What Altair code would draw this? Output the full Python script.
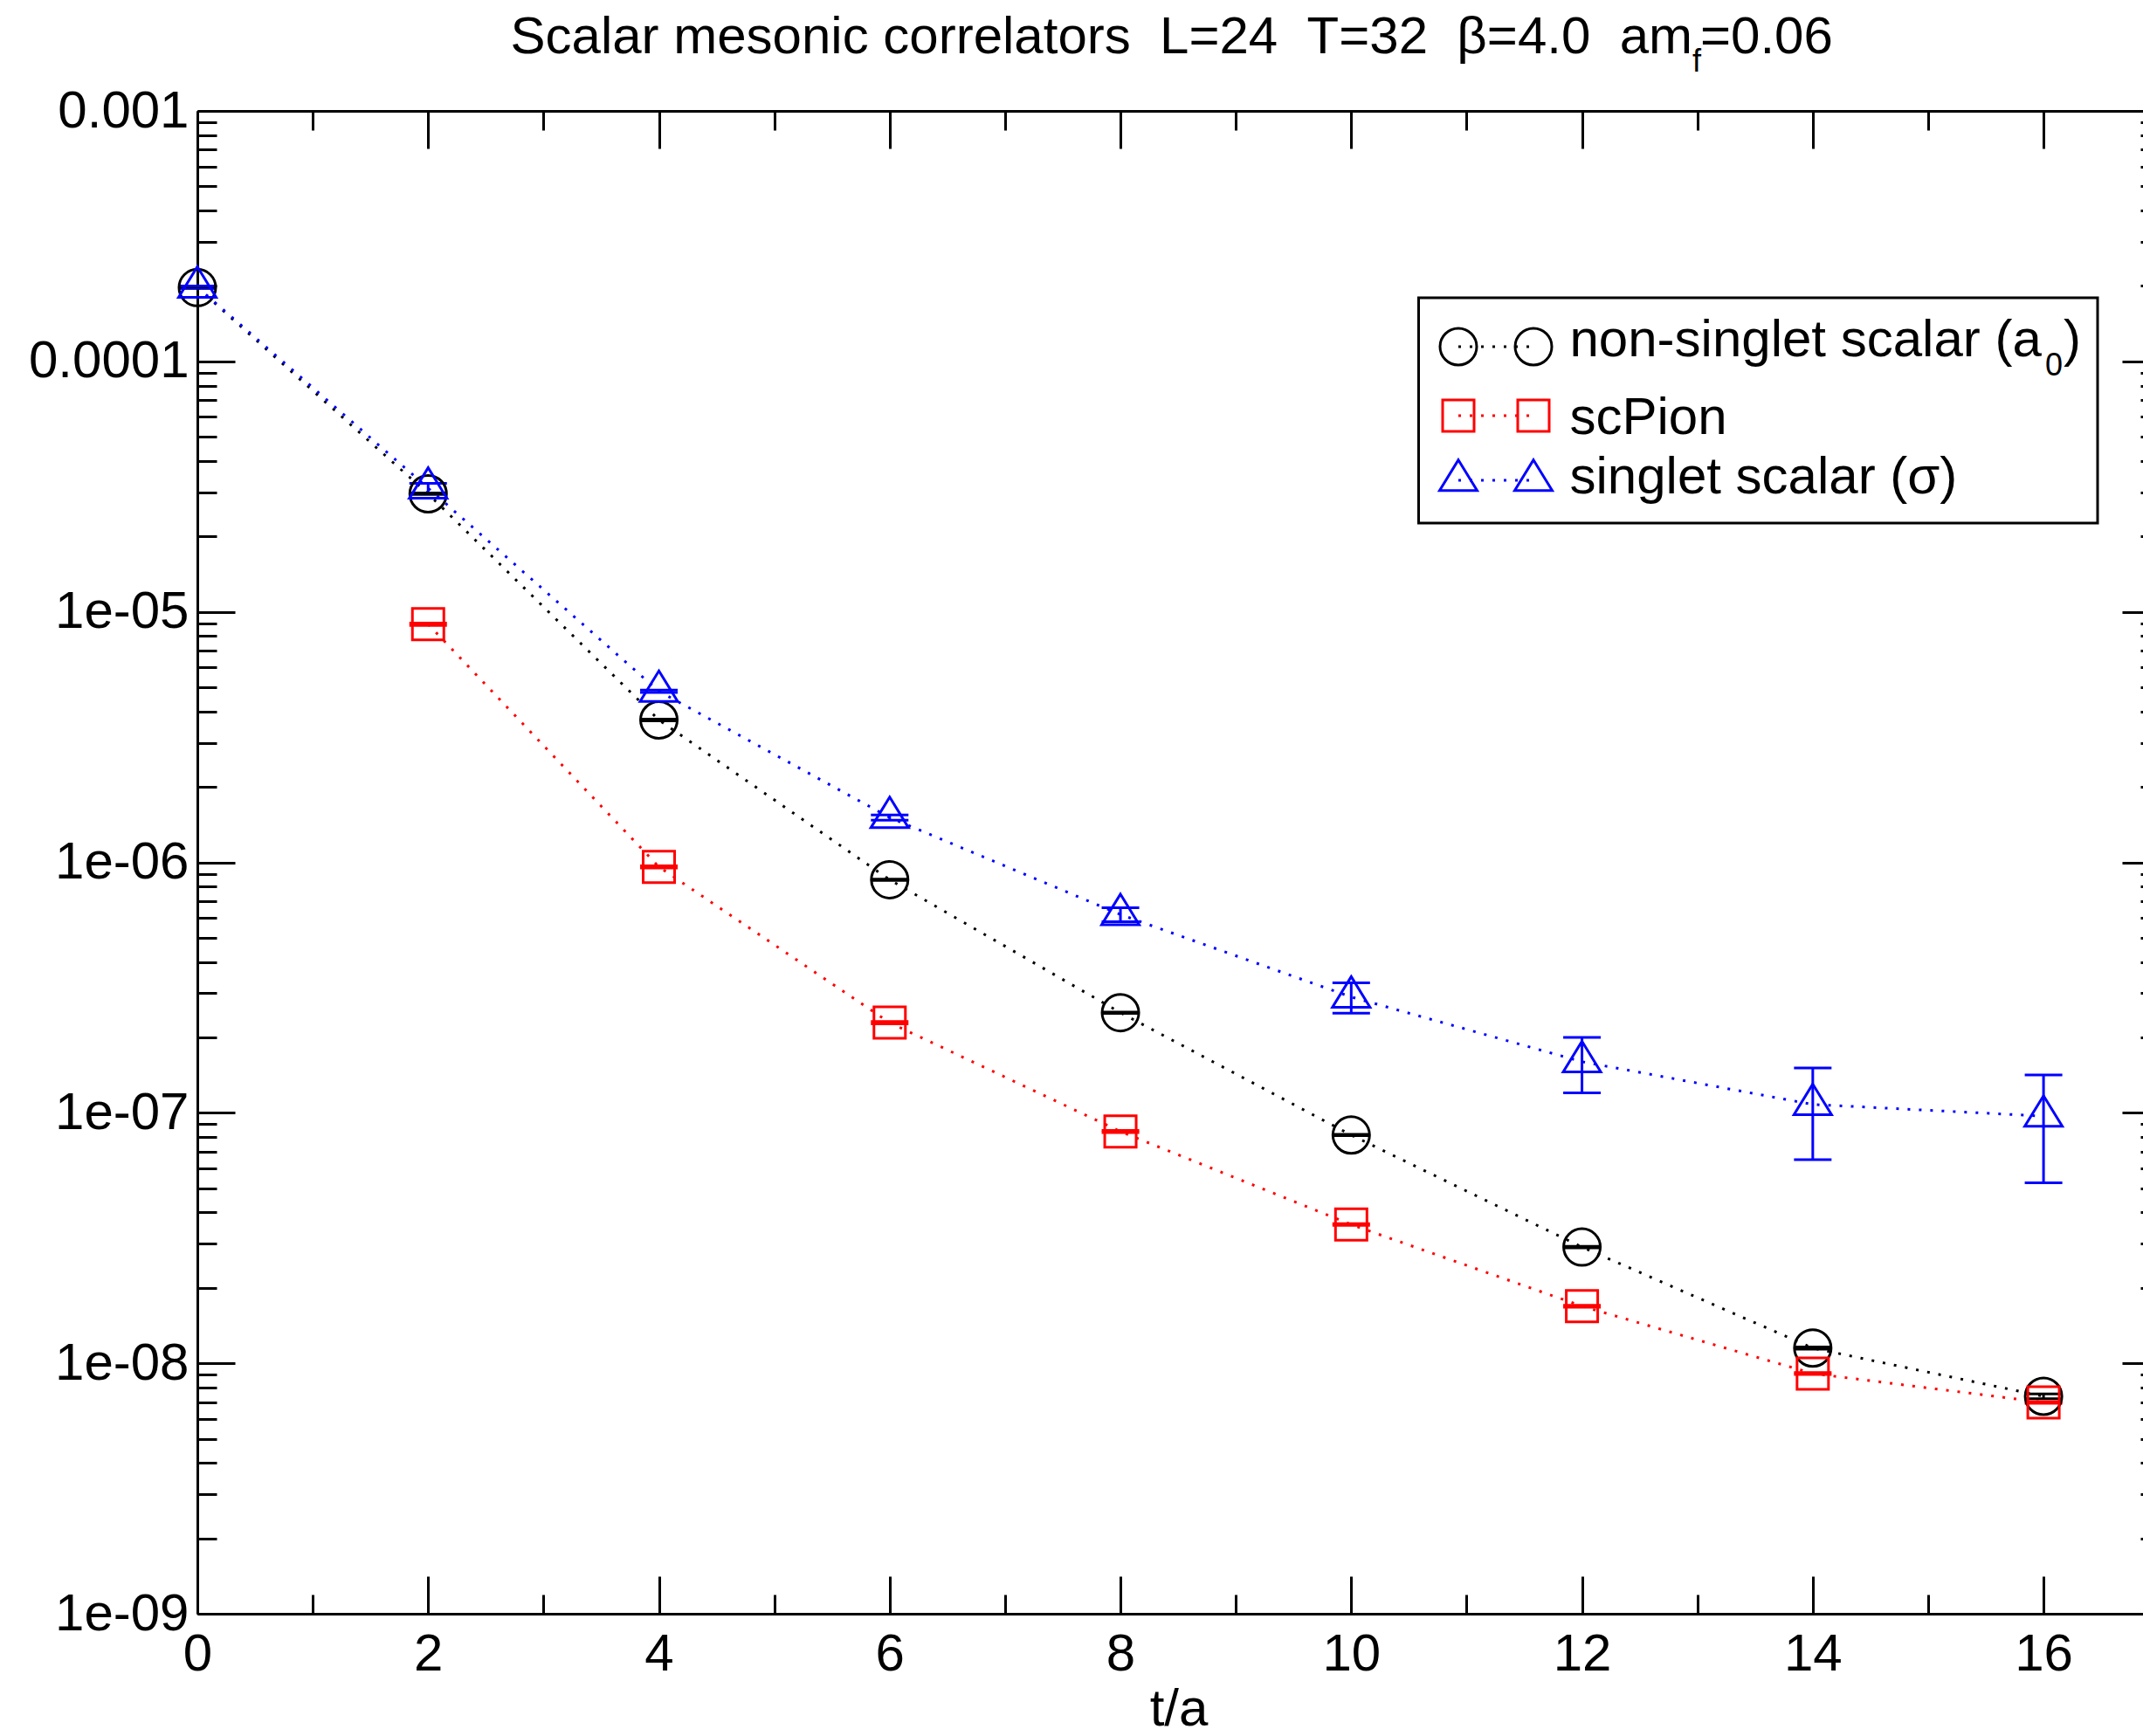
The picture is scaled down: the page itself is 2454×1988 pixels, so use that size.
import altair as alt
import pandas as pd

# ---------------- data ----------------
T_A0 = [0, 2, 4, 6, 8, 10, 12, 14, 16]
A0 = [1.97e-4, 2.96e-5, 3.70e-6, 8.52e-7, 2.51e-7, 8.15e-8, 2.91e-8, 1.15e-8, 7.38e-9]
A0_ERR = [1.5e-6, 2.0e-7, 3.0e-8, 5.0e-9, 1.5e-9, 5.0e-10, 2.0e-10, 1.2e-10, 1.6e-10]

T_PI = [2, 4, 6, 8, 10, 12, 14, 16]
PI = [8.93e-6, 9.59e-7, 2.29e-7, 8.42e-8, 3.58e-8, 1.69e-8, 9.10e-9, 6.98e-9]
PI_ERR = [1.0e-7, 1.0e-8, 2.5e-9, 8.0e-10, 3.0e-10, 1.5e-10, 8.0e-11, 6.0e-11]

T_SIG = [0, 2, 4, 6, 8, 10, 12, 14, 16]
SIG = [1.98e-4, 3.12e-5, 4.82e-6, 1.51e-6, 6.19e-7, 2.90e-7, 1.60e-7, 1.08e-7, 9.70e-8]
SIG_ERR = [2.0e-6, 1.4e-6, 5.0e-8, 3.6e-8, 4.0e-8, 4.0e-8, 4.0e-8, 4.3e-8, 4.45e-8]

SERIES = ["a0", "scPion", "sigma"]
COLORS = ["#000000", "#ff0000", "#0000ff"]

X_MAJOR = [0, 2, 4, 6, 8, 10, 12, 14, 16]
X_MINOR = [1, 3, 5, 7, 9, 11, 13, 15]
Y_MAJOR = [1e-9, 1e-8, 1e-7, 1e-6, 1e-5, 1e-4, 1e-3]
Y_MINOR = [m * d for d in [1e-9, 1e-8, 1e-7, 1e-6, 1e-5, 1e-4] for m in range(2, 10)]

TITLE_MAIN = "Scalar mesonic correlators\u00a0\u00a0L=24\u00a0\u00a0T=32\u00a0\u00a0\u03b2=4.0\u00a0\u00a0am"
TITLE_SUB = "f"
TITLE_END = "=0.06"
X_TITLE = "t/a"
LEG1_MAIN, LEG1_SUB, LEG1_END = "non-singlet scalar (a", "0", ")"
LEG2 = "scPion"
LEG3 = "singlet scalar (\u03c3)"

rows = []
for s, ts, vs, es in [("a0", T_A0, A0, A0_ERR), ("scPion", T_PI, PI, PI_ERR), ("sigma", T_SIG, SIG, SIG_ERR)]:
    for t, v, e in zip(ts, vs, es):
        rows.append({"series": s, "t": t, "val": v, "lo": v - e, "hi": v + e})
df = pd.DataFrame(rows)

# ---------------- layout / style ----------------
W, H = 2228, 1721
XMAX = 16.862
FONT = "Liberation Sans"
FS = 60
SUBFS = 36
TRI = "M0,-1.085L1,0.544L-1,0.544Z"
DASH = [3, 10]

xs = alt.Scale(domain=[0, XMAX], nice=False, zero=False)
ys = alt.Scale(type="log", domain=[1e-9, 1e-3], nice=False)
cs = alt.Scale(domain=SERIES, range=COLORS)


def axis(orient, values=None, tick=0, offset=0, labels=False, domain=False, **kw):
    args = dict(orient=orient, offset=offset, domain=domain, domainWidth=3, domainColor="black",
                grid=False, labels=labels, title=None, ticks=tick > 0, tickSize=tick,
                tickWidth=3, tickColor="black", labelFont=FONT, labelFontSize=FS,
                labelColor="black", labelOverlap=False, labelFlush=False, labelLimit=1000)
    if values is not None:
        args["values"] = values
    args.update(kw)
    return alt.Axis(**args)


ax_xb_major = axis("bottom", X_MAJOR, 43, -43, labels=True, labelPadding=17, format="d")
ax_xb_minor = axis("bottom", X_MINOR, 22, -22)
ax_xt_major = axis("top", X_MAJOR, 43, -43)
ax_xt_minor = axis("top", X_MINOR, 22, -22)
ax_xb_frame = axis("bottom", [], 0, 0, domain=True)
ax_xt_frame = axis("top", [], 0, 0, domain=True)
ax_yl_major = axis("left", Y_MAJOR, 43, -43, labels=True, labelPadding=10,
                   labelExpr="datum.value >= 0.00099 ? '0.001' : (datum.value >= 0.000099 ? '0.0001' : '1e-0' + round(-log(datum.value)/LN10))")
ax_yl_minor = axis("left", Y_MINOR, 22, -22)
ax_yr_major = axis("right", Y_MAJOR, 43, -24)
ax_yr_minor = axis("right", Y_MINOR, 22, -3)
ax_yl_frame = axis("left", [], 0, 0, domain=True)

base = alt.Chart(df)
col = alt.Color("series:N", scale=cs, legend=None)


def X(ax):
    return alt.X("t:Q", scale=xs, axis=ax)


def Y(field, ax):
    return alt.Y(f"{field}:Q", scale=ys, axis=ax)


lines = base.mark_line(strokeDash=DASH, strokeWidth=3, strokeCap="butt").encode(
    x=X(ax_xb_major), y=Y("val", ax_yl_major), color=col)
bars = base.mark_rule(strokeWidth=3).encode(
    x=X(ax_xb_minor), y=Y("lo", ax_yl_minor), y2="hi:Q", color=col)
cap_lo = base.mark_tick(orient="horizontal", size=43, thickness=3, opacity=1).encode(
    x=X(ax_xt_major), y=Y("lo", ax_yr_major), color=col)
cap_hi = base.mark_tick(orient="horizontal", size=43, thickness=3, opacity=1).encode(
    x=X(ax_xt_minor), y=Y("hi", ax_yr_minor), color=col)
circ = base.transform_filter(alt.datum.series == "a0").mark_point(
    shape="circle", size=1764, filled=False, strokeWidth=3, color=COLORS[0], opacity=1).encode(
    x=X(ax_xb_frame), y=Y("val", ax_yl_frame))
sq = base.transform_filter(alt.datum.series == "scPion").mark_point(
    shape="square", size=1296, filled=False, strokeWidth=3, color=COLORS[1], opacity=1).encode(
    x=X(ax_xt_frame), y=Y("val", None))
tri = base.transform_filter(alt.datum.series == "sigma").mark_point(
    shape=TRI, size=1849, filled=False, strokeWidth=3, color=COLORS[2], opacity=1).encode(
    x=X(None), y=Y("val", None))

one = alt.Chart(pd.DataFrame({"k": [0]}))


def text(s, x, y, size=FS, align="left"):
    return one.mark_text(text=s, font=FONT, fontSize=size, color="black", align=align,
                         baseline="alphabetic").encode(x=alt.value(x), y=alt.value(y))


annos = [
    text(TITLE_MAIN, 1712, -66, align="right"),
    text(TITLE_SUB, 1712, -45, size=SUBFS),
    text(TITLE_END, 1721, -66),
    text(X_TITLE, 1124, 1849, align="center"),
]

# legend box
leg = [one.mark_rect(fillOpacity=0, stroke="black", strokeWidth=3).encode(
    x=alt.value(1398.5), x2=alt.value(2176), y=alt.value(214), y2=alt.value(472))]
LEG_X1, LEG_X2 = 1444, 1530
for color, shape, size, yy in [(COLORS[0], "circle", 1764, 270), (COLORS[1], "square", 1296, 349),
                               (COLORS[2], TRI, 1849, 423)]:
    leg.append(one.mark_rule(strokeDash=DASH, strokeWidth=3, color=color).encode(
        x=alt.value(LEG_X1), x2=alt.value(LEG_X2), y=alt.value(yy)))
    for xx in (LEG_X1, LEG_X2):
        leg.append(one.mark_point(shape=shape, size=size, filled=False, strokeWidth=3,
                                  color=color, opacity=1).encode(x=alt.value(xx), y=alt.value(yy)))
leg += [
    text(LEG1_MAIN, 1571.5, 281),
    text(LEG1_SUB, 2116, 303, size=SUBFS),
    text(LEG1_END, 2137, 281),
    text(LEG2, 1571.5, 370),
    text(LEG3, 1571.5, 438),
]

chart = alt.layer(lines, bars, cap_lo, cap_hi, circ, sq, tri, *annos, *leg).resolve_scale(
    x="shared", y="shared", color="shared").resolve_axis(x="independent", y="independent").properties(
    width=W, height=H,
    padding={"left": 226, "top": 127, "right": 0, "bottom": 140},
    autosize=alt.AutoSizeParams(type="none"),
    background="white",
).configure_view(strokeWidth=0)

chart.save("out.html", embed_options={"renderer": "svg", "actions": False})
